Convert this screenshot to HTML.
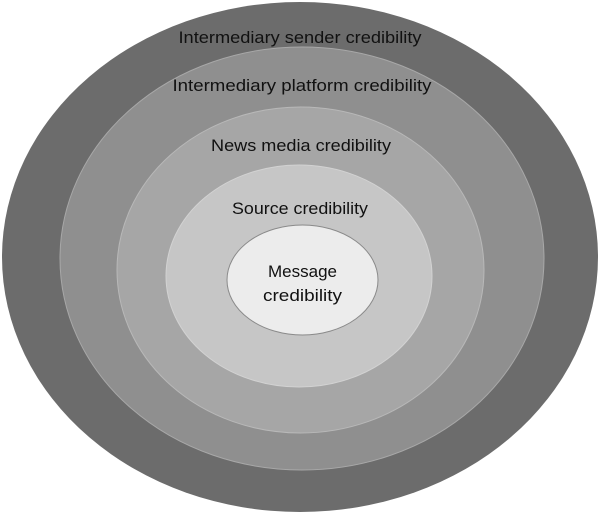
<!DOCTYPE html>
<html><head><style>html,body{margin:0;padding:0;background:#fff}svg{display:block}</style></head>
<body>
<svg width="600" height="516" viewBox="0 0 600 516" xmlns="http://www.w3.org/2000/svg" font-family="'Liberation Sans', sans-serif" fill="#111">
<ellipse cx="300" cy="257" rx="298" ry="255" fill="#6c6c6c"/>
<ellipse cx="302" cy="258.5" rx="242" ry="211.5" fill="#8f8f8f" stroke="#a8a8a8" stroke-width="1"/>
<ellipse cx="300.5" cy="270" rx="183.5" ry="163" fill="#a6a6a6" stroke="#b8b8b8" stroke-width="1"/>
<ellipse cx="299" cy="276" rx="133" ry="111" fill="#c6c6c6" stroke="#d2d2d2" stroke-width="1"/>
<ellipse cx="302.5" cy="280" rx="75.5" ry="55" fill="#ececec" stroke="#8a8a8a" stroke-width="1"/>
<g font-size="17" text-anchor="middle">
<text x="300" y="43" textLength="243" lengthAdjust="spacingAndGlyphs">Intermediary sender credibility</text>
<text x="302" y="91" textLength="259" lengthAdjust="spacingAndGlyphs">Intermediary platform credibility</text>
<text x="301" y="151" textLength="180" lengthAdjust="spacingAndGlyphs">News media credibility</text>
<text x="300" y="214" textLength="136" lengthAdjust="spacingAndGlyphs">Source credibility</text>
<text x="302.5" y="277" textLength="69" lengthAdjust="spacingAndGlyphs">Message</text>
<text x="302.5" y="301" textLength="79" lengthAdjust="spacingAndGlyphs">credibility</text>
</g>
</svg>
</body></html>
